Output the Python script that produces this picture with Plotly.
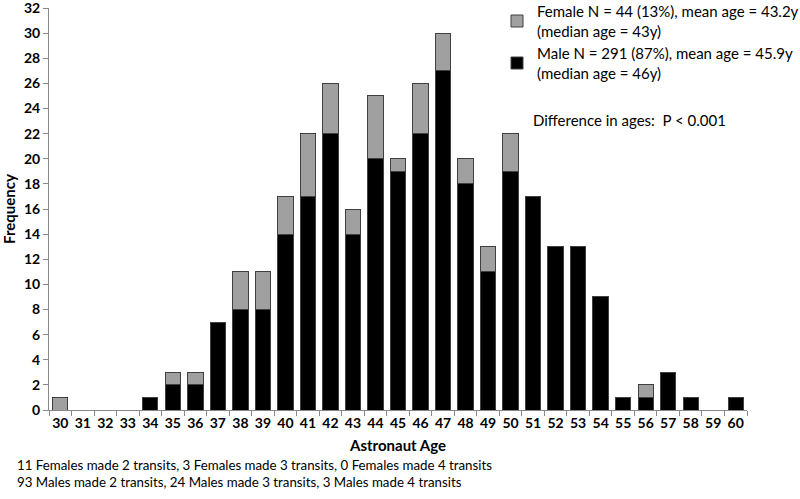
import plotly.graph_objects as go

ages = list(range(30, 61))
male = [0, 0, 0, 0, 1, 2, 2, 7, 8, 8, 14, 17, 22, 14, 20, 19, 22, 27, 18, 11, 19, 17, 13, 13, 9, 1, 1, 3, 1, 0, 1]
female = [1, 0, 0, 0, 0, 1, 1, 0, 3, 3, 3, 5, 4, 2, 5, 1, 4, 3, 2, 2, 3, 0, 0, 0, 0, 0, 1, 0, 0, 0, 0]
yticks = list(range(0, 33, 2))

female_label = "Female N = 44 (13%), mean age = 43.2y<br>(median age = 43y)"
male_label = "Male N = 291 (87%), mean age = 45.9y<br>(median age = 46y)"
diff_text = "Difference in ages:  P < 0.001"
foot1 = "11 Females made 2 transits, 3 Females made 3 transits, 0 Females made 4 transits"
foot2 = "93 Males made 2 transits, 24 Males made 3 transits, 3 Males made 4 transits"

FONT = "Lato, 'Open Sans', sans-serif"

TOP, BOT = 8, 410
PH = BOT - TOP

fig = go.Figure()
fig.add_trace(go.Bar(x=ages, y=male, name=male_label,
                     marker=dict(color="#000000", line=dict(color="#404040", width=1))))
fig.add_trace(go.Bar(x=ages, y=female, name=female_label,
                     marker=dict(color="#a0a0a0", line=dict(color="#404040", width=1))))

fig.update_layout(
    barmode="stack",
    bargap=0.32,
    width=800, height=499,
    margin=dict(l=49, r=53, t=TOP, b=499 - BOT, autoexpand=False),
    plot_bgcolor="white", paper_bgcolor="white",
    font=dict(family=FONT, color="#000000"),
    legend=dict(x=(497 - 49) / 698, y=1 + 13 / PH, xanchor="left", yanchor="top",
                font=dict(size=15, family=FONT),
                itemwidth=30, tracegroupgap=2, bgcolor="rgba(0,0,0,0)"),
    showlegend=True,
)

fig.update_xaxes(
    range=[29.5, 60.5], tickmode="array", tickvals=ages, ticktext=[str(a) for a in ages],
    ticks="", showline=True, linecolor="#888888", linewidth=1, showgrid=False,
    tickfont=dict(size=14, family=FONT, weight="bold"), ticklabeloverflow="allow",
    minor=dict(tickmode="array", tickvals=[a - 0.5 for a in ages] + [60.5],
               ticks="outside", ticklen=5, tickcolor="#888888", showgrid=False),
    title=dict(text="Astronaut Age", font=dict(size=15, family=FONT, weight="bold"), standoff=10),
)
fig.update_yaxes(
    range=[0, 32], tickmode="array", tickvals=yticks, ticktext=[str(v) for v in yticks],
    ticks="outside", ticklen=5, tickcolor="#888888", ticklabeloverflow="allow",
    showline=True, linecolor="#888888", linewidth=1, showgrid=False, zeroline=False,
    tickfont=dict(size=14, family=FONT, weight="bold"),
    title=dict(text="Frequency", font=dict(size=15, family=FONT, weight="bold"), standoff=8),
)

fig.add_annotation(text=diff_text, xref="paper", yref="paper", x=(531 - 49) / 698, y=(BOT - 120) / PH,
                   xanchor="left", yanchor="middle", showarrow=False, font=dict(size=15, family=FONT))
fig.add_annotation(text=foot1, xref="paper", yref="paper", x=(15 - 49) / 698, y=(BOT - 465) / PH,
                   xanchor="left", yanchor="middle", showarrow=False, font=dict(size=13.3, family=FONT))
fig.add_annotation(text=foot2, xref="paper", yref="paper", x=(15 - 49) / 698, y=(BOT - 482) / PH,
                   xanchor="left", yanchor="middle", showarrow=False, font=dict(size=13.3, family=FONT))

fig.write_html("out.html", config={"displayModeBar": False},
               post_script="document.body.style.margin='0';")
